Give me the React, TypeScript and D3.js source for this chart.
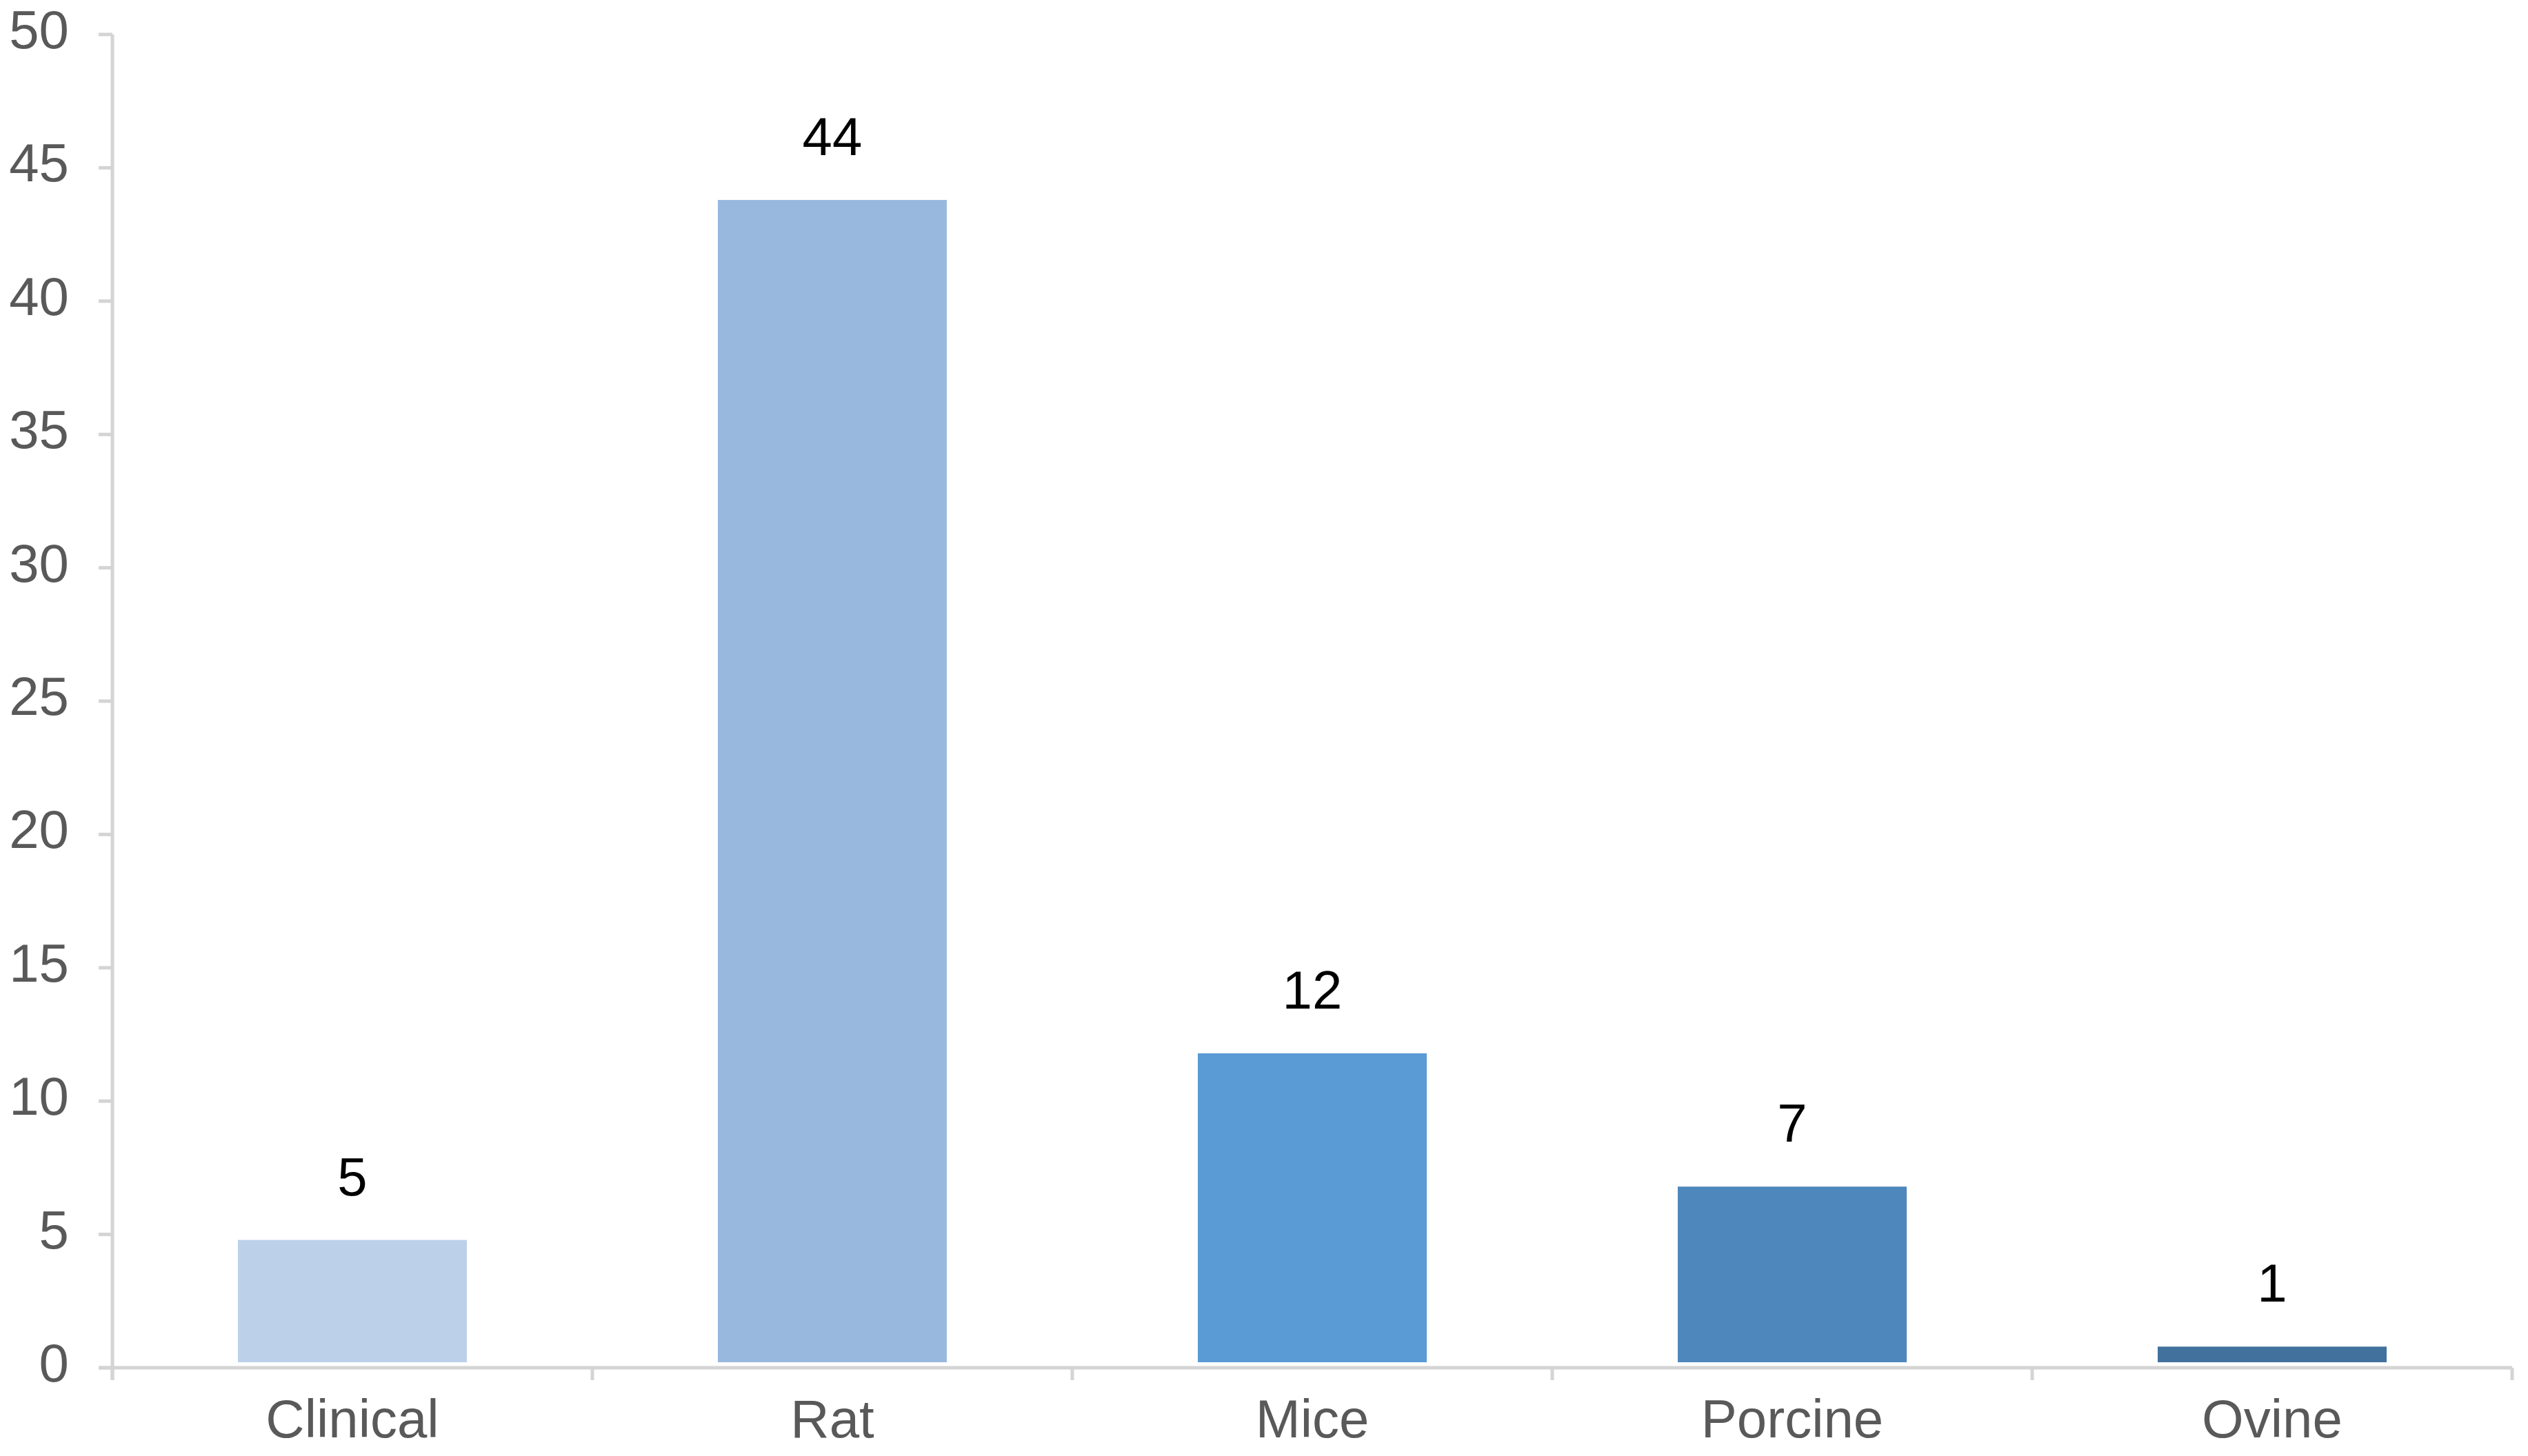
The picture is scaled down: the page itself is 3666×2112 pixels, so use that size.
import React from "react";
import * as d3 from "d3";

const categories = ["Clinical", "Rat", "Mice", "Porcine", "Ovine"];
const values = [5, 44, 12, 7, 1];
const colors = ["#bdd0ea", "#98b8de", "#5b9bd5", "#4e87bb", "#41719c"];
const yTicks = [0, 5, 10, 15, 20, 25, 30, 35, 40, 45, 50];

const W = 3666;
const H = 2112;
const left = 163;
const right = 3643;
const top = 50;
const bottom = 1984;

export default function App() {
  const x = d3.scaleBand<string>().domain(categories).range([left, right]).paddingInner(0.5).paddingOuter(0.25);
  const band = d3.scaleBand<string>().domain(categories).range([left, right]);
  const y = d3.scaleLinear().domain([0, 50]).range([bottom, top]);
  const axisColor = "#d4d4d4";
  const font = "'Liberation Sans', Arial, Helvetica, sans-serif";
  const boundaries = categories.map((c) => band(c) as number).concat([right]);

  return (
    <svg width={W} height={H} style={{ position: "absolute", left: 0, top: 0, background: "#fff" }}>
      <rect x={0} y={0} width={W} height={H} fill="#fff" />
      {categories.map((c, i) => {
        const bx = x(c) as number;
        const bw = x.bandwidth();
        const yv = y(values[i]);
        return (
          <g key={c}>
            <rect x={bx} y={yv} width={bw} height={bottom - yv} fill={colors[i]} stroke="#fff" strokeWidth={16} />
            <text
              x={bx + bw / 2}
              y={yv - 57}
              textAnchor="middle"
              fontFamily={font}
              fontSize={78}
              fill="#000"
            >
              {values[i]}
            </text>
            <text
              x={(band(c) as number) + band.bandwidth() / 2}
              y={2085}
              textAnchor="middle"
              fontFamily={font}
              fontSize={78}
              fill="#595959"
            >
              {c}
            </text>
          </g>
        );
      })}
      {/* y axis */}
      <line x1={left} x2={left} y1={top} y2={bottom + 18} stroke={axisColor} strokeWidth={5} />
      {yTicks.map((t) => (
        <g key={t}>
          <line x1={left - 20} x2={left} y1={y(t)} y2={y(t)} stroke={axisColor} strokeWidth={5} />
          <text
            x={100}
            y={y(t) + 20}
            textAnchor="end"
            fontFamily={font}
            fontSize={78}
            fill="#595959"
          >
            {t}
          </text>
        </g>
      ))}
      {/* x axis */}
      <line x1={left - 20} x2={right} y1={bottom} y2={bottom} stroke={axisColor} strokeWidth={5} />
      {boundaries.map((b, i) => (
        <line key={i} x1={b} x2={b} y1={bottom} y2={bottom + 18} stroke={axisColor} strokeWidth={5} />
      ))}
    </svg>
  );
}
